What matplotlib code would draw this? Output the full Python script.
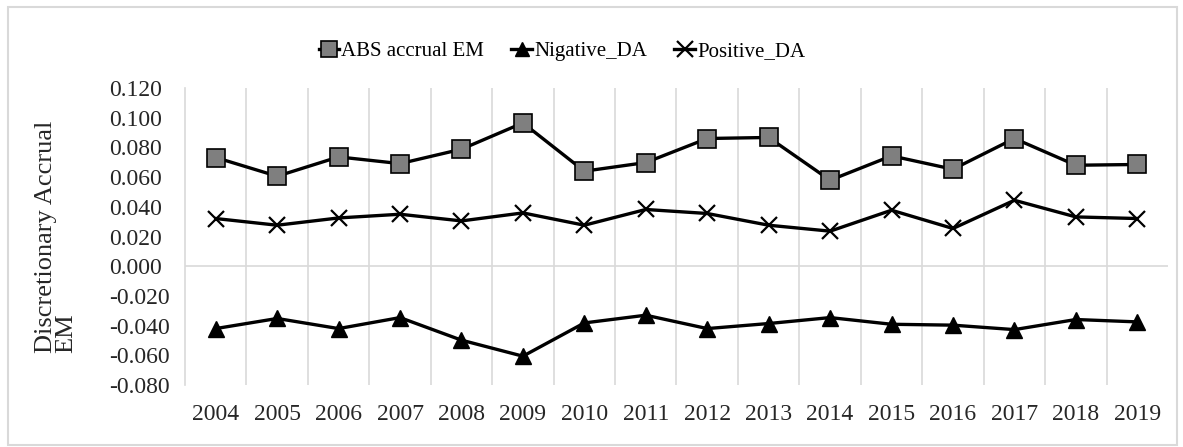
import matplotlib
matplotlib.use("Agg")
import matplotlib.pyplot as plt
from matplotlib.patches import Rectangle

plt.rcParams['font.family'] = ['Liberation Serif', 'DejaVu Serif']

years = [str(y) for y in range(2004, 2020)]
abs_em = [0.0732, 0.0606, 0.0736, 0.0691, 0.0788, 0.0965, 0.0640, 0.0698,
          0.0860, 0.0867, 0.0579, 0.0743, 0.0653, 0.0860, 0.0680, 0.0685]
neg_da = [-0.0420, -0.0352, -0.0420, -0.0346, -0.0498, -0.0606, -0.0382, -0.0330,
          -0.0420, -0.0386, -0.0346, -0.0391, -0.0397, -0.0427, -0.0359, -0.0375]
pos_da = [0.0321, 0.0276, 0.0325, 0.0350, 0.0305, 0.0359, 0.0276, 0.0382,
          0.0355, 0.0276, 0.0236, 0.0377, 0.0254, 0.0444, 0.0332, 0.0321]
yticks = [-0.08, -0.06, -0.04, -0.02, 0.0, 0.02, 0.04, 0.06, 0.08, 0.10, 0.12]

fig = plt.figure(figsize=(11.83, 4.47), dpi=100)
ax = fig.add_axes([0.1564, 0.1387, 0.8309, 0.6644])

x = list(range(len(years)))
ax.plot(x, abs_em, color='black', lw=2.4, marker='s', ms=12.5,
        mfc='#7f7f7f', mec='black', mew=1.2, label='ABS accrual EM')
ax.plot(x, neg_da, color='black', lw=2.4, marker='^', ms=11,
        mfc='black', mec='black', label='Nigative_DA')
ax.plot(x, pos_da, color='black', lw=2.4, marker='x', ms=12,
        mew=1.6, label='Positive_DA')

ax.set_xlim(-0.5, len(years) - 0.5)
ax.set_ylim(-0.08, 0.12)
ax.set_yticks(yticks)
ax.set_yticklabels(['%.3f' % v for v in yticks])
for t in ax.get_yticklabels():
    t.set_horizontalalignment('left')
ax.set_xticks(x)
ax.set_xticklabels(years)
ax.tick_params(axis='y', length=0, pad=55, labelsize=17)
ax.tick_params(axis='x', length=0, pad=14, labelsize=17)
for t in ax.get_xticklabels() + ax.get_yticklabels():
    t.set_color('#262626')

for s in ['top', 'right', 'bottom']:
    ax.spines[s].set_visible(False)
ax.spines['left'].set_color('#d9d9d9')
ax.spines['left'].set_linewidth(1.2)
for i in range(1, len(years)):
    ax.axvline(i - 0.5, color='#d9d9d9', lw=1.2, zorder=0)
ax.axhline(0, color='#d9d9d9', lw=1.2, zorder=0)

ax.set_ylabel('Discretionary Accrual\nEM', fontsize=19, color='#262626',
              multialignment='left', linespacing=0.85)
ax.yaxis.set_label_coords(-0.11, 0.5)

fig.legend(loc='center', bbox_to_anchor=(0.475, 0.885), ncol=3, frameon=False,
           fontsize=15, handlelength=1.0, handletextpad=0.1, columnspacing=1.3,
           markerscale=0.95)

fig.patches.append(Rectangle((0.007, 0.004), 0.988, 0.98, transform=fig.transFigure,
                             fill=False, edgecolor='#d9d9d9', lw=1.5))

fig.savefig('out.png', dpi=100)
